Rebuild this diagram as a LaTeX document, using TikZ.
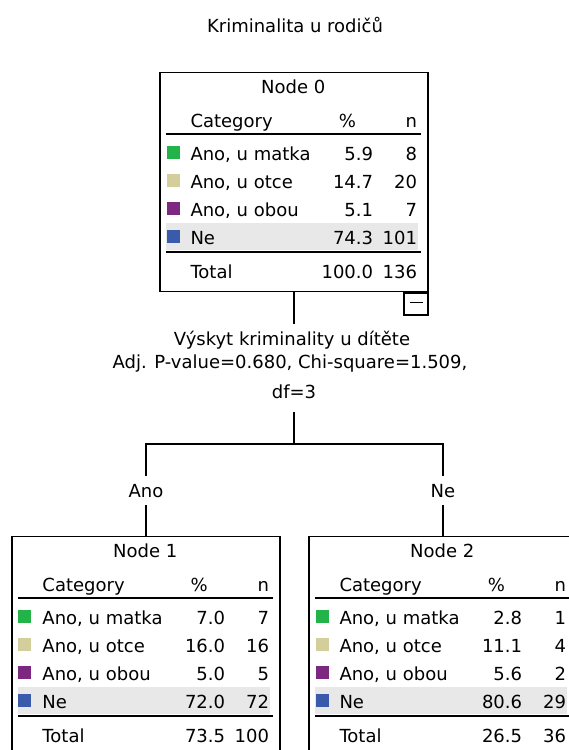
\documentclass[tikz,border=0pt]{standalone}
\usepackage{fontspec}
\setmainfont{DejaVu Sans}
\definecolor{cat1}{RGB}{34,180,72}
\definecolor{cat2}{RGB}{212,206,156}
\definecolor{cat3}{RGB}{124,40,128}
\definecolor{cat4}{RGB}{58,90,172}
\definecolor{bandgrey}{RGB}{232,232,232}
\tikzset{
  lbl/.style={inner sep=0pt, font=\fontsize{18bp}{21bp}\selectfont},
  treebox/.style={draw, line width=1.4bp, minimum width=268bp, minimum height=219bp, inner sep=0pt, anchor=north},
  conn/.style={line width=1.4bp},
  sepline/.style={line width=1.4bp},
  swatch/.style={inner sep=0pt, minimum width=13bp, minimum height=13bp, anchor=south west},
}
\newcommand\rowname[1]{\ifcase#1\or Ano, u matka\or Ano, u otce\or Ano, u obou\or Ne\fi}
\newcommand\treetable[5]{%
  \begin{scope}[shift={(#1.north west)}]
    \fill[bandgrey] (7,151) rectangle (259,178);
    \node[lbl, anchor=base] (#1-title) at (134,21) {#2};
    \node[lbl, anchor=base west] (#1-hcat) at (31,55) {Category};
    \node[lbl, anchor=base] (#1-hpct) at (188,55) {\%};
    \node[lbl, anchor=base east] (#1-hn) at (258,55) {n};
    \draw[sepline] (7,62) -- (262,62);
    \foreach \p/\n [count=\i] in {#3} {
      \pgfmathsetmacro\yb{60+28*\i}
      \node[swatch, fill=cat\i] (#1-sw\i) at (7,\yb-1) {};
      \node[lbl, anchor=base west] (#1-lab\i) at (31,\yb) {\rowname{\i}};
      \node[lbl, anchor=base east] (#1-pct\i) at (214,\yb) {\p};
      \node[lbl, anchor=base east] (#1-n\i) at (258,\yb) {\n};
    }
    \draw[sepline] (7,180) -- (262,180);
    \node[lbl, anchor=base west] (#1-tot) at (31,206) {Total};
    \node[lbl, anchor=base east] (#1-totpct) at (214,206) {#4};
    \node[lbl, anchor=base east] (#1-totn) at (258,206) {#5};
  \end{scope}}
\begin{document}
\begin{tikzpicture}[x=1bp,y=-1bp]
\useasboundingbox (0,0) rectangle (569,750);
\clip (0,0) rectangle (569,750);

\node[lbl, anchor=base] (title) at (295,33) {Kriminalita u rodičů};

% root node
\node[treebox] (n0) at (294,72) {};
\treetable{n0}{Node 0}{5.9/8,14.7/20,5.1/7,74.3/101}{100.0}{136}
\node[draw, line width=1.4bp, minimum width=24bp, minimum height=22bp,
      anchor=north east, inner sep=0pt] (n0-toggle) at (n0.south east) {\rule[0.5ex]{13bp}{1.4bp}};

% split description
\node[lbl, anchor=base] (split-var) at (292,345) {Výskyt kriminality u dítěte};
\node[lbl, anchor=base] (split-stat) at (290,368) {Adj. P-value=0.680, Chi-square=1.509,};
\node[lbl, anchor=base] (split-df) at (294,398) {df=3};
\coordinate (split-top) at (294,324);
\coordinate (hub) at (294,444);
\draw[conn] (n0.south) -- (split-top);
\draw[conn] ([yshift=-14bp]split-df.south) -- (hub);

% branch labels
\node[lbl, anchor=base] (ano) at (146,497) {Ano};
\node[lbl, anchor=base] (ne) at (443,497) {Ne};
\draw[conn, shorten >=8bp] (hub) -| (ano.north);
\draw[conn, shorten >=8bp] (hub) -| (ne.north);

% child nodes
\node[treebox] (n1) at (146,536) {};
\treetable{n1}{Node 1}{7.0/7,16.0/16,5.0/5,72.0/72}{73.5}{100}
\node[treebox] (n2) at (443,536) {};
\treetable{n2}{Node 2}{2.8/1,11.1/4,5.6/2,80.6/29}{26.5}{36}

\draw[conn, shorten <=8bp] (ano.south) -- (n1.north);
\draw[conn, shorten <=8bp] (ne.south) -- (n2.north);
\end{tikzpicture}
\end{document}
